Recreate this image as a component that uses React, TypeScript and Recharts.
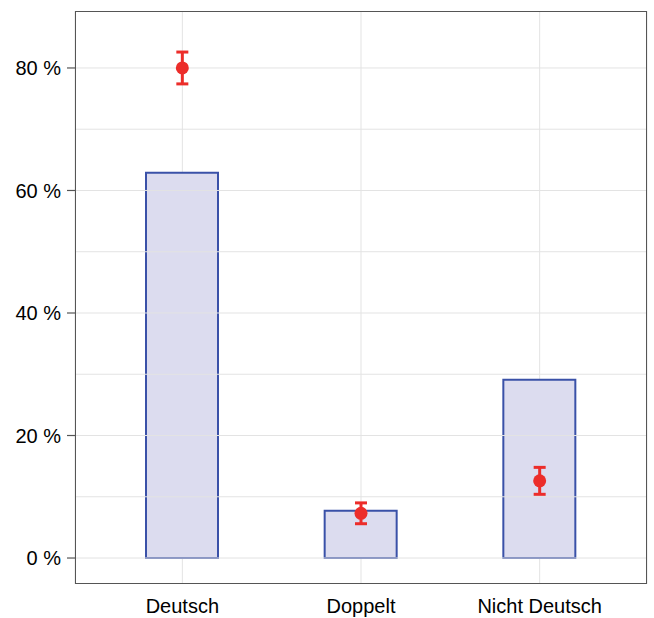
import React from "react"
import { ComposedChart, Bar, Line, ErrorBar, XAxis, YAxis, CartesianGrid, ReferenceLine } from "recharts"

const categories = ["Deutsch", "Doppelt", "Nicht Deutsch"]
const barValues = [62.9, 7.7, 29.1]
const pointValues = [80.0, 7.3, 12.6]
const pointErrors = [2.6, 1.7, 2.2]
const yTicks = [0, 20, 40, 60, 80]
const gridLines = [0, 10, 20, 30, 40, 50, 60, 70, 80]

const data = categories.map((name, i) => ({
  name,
  bar: barValues[i],
  point: pointValues[i],
  err: pointErrors[i],
}))

const FONT = "'Liberation Sans', Arial, sans-serif"
const AXIS = "#555"
const Y_MIN = -4.24
const Y_MAX = 89.3

export default function App() {
  return (
    <div style={{ position: "absolute", left: 0, top: 0, width: 654, height: 618, background: "#fff" }}>
      <ComposedChart width={654} height={618} data={data} margin={{ top: 11, right: 7, bottom: 0, left: 0 }}>
        <CartesianGrid horizontal={false} stroke="#e3e3e3" strokeWidth={1} />
        {gridLines.map((v) => (
          <ReferenceLine key={v} y={v} stroke="#e3e3e3" strokeWidth={1} />
        ))}
        <XAxis
          dataKey="name"
          padding={{ left: 18, right: 18 }}
          tickLine={false}
          tickSize={7}
          tickMargin={8}
          height={34}
          axisLine={false}
          tick={{ fill: "#000", fontSize: 20, fontFamily: FONT }}
        />
        <YAxis
          domain={[Y_MIN, Y_MAX]}
          ticks={yTicks}
          width={75}
          tickSize={8}
          tickMargin={6}
          tickFormatter={(v) => `${v} %`}
          axisLine={false}
          tickLine={{ stroke: AXIS, strokeWidth: 1.2 }}
          tick={{ fill: "#000", fontSize: 20, fontFamily: FONT }}
        />
        <Bar dataKey="bar" barSize={72} fill="#dcdcef" stroke="#3a51a8" strokeWidth={2} isAnimationActive={false} />
        <Line
          dataKey="point"
          stroke="none"
          dot={{ r: 6.5, fill: "#ec2d2a", stroke: "none" }}
          activeDot={false}
          isAnimationActive={false}
        >
          <ErrorBar dataKey="err" width={6} stroke="#ec2d2a" strokeWidth={3} isAnimationActive={false} />
        </Line>
      </ComposedChart>
      {/* plot frame */}
      <div
        style={{
          position: "absolute",
          left: 75,
          top: 11,
          width: 572,
          height: 573,
          border: `1.2px solid ${AXIS}`,
          boxSizing: "border-box",
          pointerEvents: "none",
        }}
      />
    </div>
  )
}
